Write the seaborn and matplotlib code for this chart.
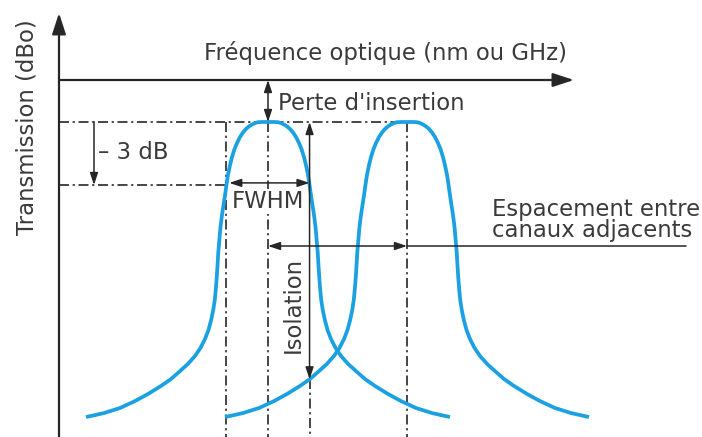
import numpy as np
import pandas as pd
import matplotlib
matplotlib.use("Agg")
import matplotlib.pyplot as plt
import seaborn as sns

# Half profile of one flat-top channel filter: offset from channel centre (GHz)
# and transmitted level (dB, 0 dB = reference line).
profile_offset_ghz = [0.0, 4.3, 7.2, 9.4, 11.5, 13.7, 15.8, 18.0, 20.1, 22.3, 24.1,
                      25.9, 27.3, 28.8, 29.9, 30.9, 32.0, 33.1, 34.2, 35.0, 35.8,
                      36.3, 36.9, 37.6, 38.3, 39.4, 40.9, 42.8, 45.3, 48.6, 52.5,
                      57.6, 63.3, 69.8, 77.0, 86.3, 95.7, 106.5, 118.0, 130.9]
profile_level_db = [-2.00, -2.00, -2.01, -2.05, -2.12, -2.21, -2.33, -2.50, -2.71, -3.00,
                    -3.29, -3.67, -4.05, -4.52, -5.00, -5.48, -5.95, -6.43, -7.00, -7.62,
                    -8.24, -8.81, -9.43, -10.00, -10.48, -10.95, -11.43, -11.90, -12.33,
                    -12.76, -13.14, -13.52, -13.86, -14.24, -14.57, -14.95, -15.29,
                    -15.62, -15.86, -16.05]

channel_names = ["Canal 1", "Canal 2"]
channel_centres_ghz = [0.0, 100.0]

reference_level_db = 0.0
peak_level_db = -2.0          # after insertion loss
half_power_level_db = -5.0    # peak - 3 dB
fwhm_half_ghz = 29.9

# Full symmetric response of each channel
off = np.array(profile_offset_ghz)
lev = np.array(profile_level_db)
full_off = np.concatenate([-off[::-1], off[1:]])
full_lev = np.concatenate([lev[::-1], lev[1:]])
frames = []
for name, fc in zip(channel_names, channel_centres_ghz):
    frames.append(pd.DataFrame({"freq": fc + full_off, "level": full_lev, "canal": name}))
df = pd.concat(frames, ignore_index=True)

# Figure geometry: 702 x 437 px, frequency 1.39 px/GHz, level 21 px/dB
W, H, DPI = 702, 437, 100
PX_PER_GHZ, PX_PER_DB = 1.39, 21.0
X0_PX, Y0_PX = 268.0, 80.0   # pixel of channel 1 centre / 0 dB line


def X(px):
    return (px - X0_PX) / PX_PER_GHZ


def Y(py):
    return -(py - Y0_PX) / PX_PER_DB


sns.set_style("white")
plt.rcParams["font.family"] = ["DejaVu Sans"]

BLUE = "#1ba1e2"
INK = "#262626"
TXT = "#3a3a3a"
FS = 16.4
DASHDOT = (0, (6, 2.2, 1.3, 2.2))

fig = plt.figure(figsize=(W / DPI, H / DPI), dpi=DPI)
ax = fig.add_axes([0, 0, 1, 1])
ax.set_xlim(X(0), X(W))
ax.set_ylim(Y(H), Y(0))
ax.axis("off")

sns.lineplot(data=df, x="freq", y="level", hue="canal",
             palette=[BLUE, BLUE], estimator=None, sort=False, legend=False,
             lw=2.7, ax=ax, zorder=3)
for line in ax.lines:
    line.set_solid_capstyle("butt")
    line.set_solid_joinstyle("round")

bottom = Y(H) - 0.5
axis_x = X(59)

# Axes with arrow heads
big_head = "-|>,head_length=0.8,head_width=0.26"
ax.annotate("", xy=(axis_x, Y(13)), xytext=(axis_x, bottom),
            arrowprops=dict(arrowstyle=big_head, mutation_scale=16, lw=1.6,
                            color=INK, shrinkA=0, shrinkB=0))
ax.annotate("", xy=(X(574), reference_level_db), xytext=(axis_x, reference_level_db),
            arrowprops=dict(arrowstyle=big_head, mutation_scale=16, lw=1.6,
                            color=INK, shrinkA=0, shrinkB=0))

# Dash-dot guide lines
fc1, fc2 = channel_centres_ghz
guide = dict(ls=DASHDOT, lw=1.2, color=INK, zorder=2)
ax.plot([axis_x, fc2 - 8], [peak_level_db] * 2, **guide)
ax.plot([axis_x, fc1 - fwhm_half_ghz], [half_power_level_db] * 2, **guide)
for xv in (fc1 - fwhm_half_ghz, fc1, fc2):
    ax.plot([xv, xv], [peak_level_db, bottom], **guide)

# Isolation: from peak down to the adjacent channel level at the channel edge
edge = fc1 + fwhm_half_ghz
iso_level = np.interp(fc2 - edge, profile_offset_ghz, profile_level_db)
ax.plot([edge, edge], [iso_level, bottom], **guide)

small = dict(mutation_scale=12, lw=1.1, color=INK, shrinkA=0, shrinkB=0)
dbl = "<|-|>,head_length=0.6,head_width=0.2"
one = "-|>,head_length=0.6,head_width=0.2"

ax.annotate("", xy=(fc1, peak_level_db), xytext=(fc1, reference_level_db),
            arrowprops=dict(arrowstyle=dbl, **small), zorder=4)
ax.annotate("", xy=(X(94), half_power_level_db), xytext=(X(94), peak_level_db),
            arrowprops=dict(arrowstyle=one, **small), zorder=4)
ax.annotate("", xy=(fc1 + fwhm_half_ghz, half_power_level_db + 0.1),
            xytext=(fc1 - fwhm_half_ghz + 2, half_power_level_db + 0.1),
            arrowprops=dict(arrowstyle=dbl, **small), zorder=4)
ax.annotate("", xy=(edge, iso_level), xytext=(edge, peak_level_db),
            arrowprops=dict(arrowstyle=dbl, **small), zorder=4)
spacing_y = Y(246)
ax.annotate("", xy=(fc2, spacing_y), xytext=(fc1, spacing_y),
            arrowprops=dict(arrowstyle=dbl, **small), zorder=4)
ax.plot([fc2, X(686)], [spacing_y] * 2, lw=1.1, color=INK, zorder=4)

# Labels
ax.text(X(386), Y(60), "Fréquence optique (nm ou GHz)", ha="center", va="baseline",
        fontsize=FS, color=TXT)
ax.text(X(278), Y(110), "Perte d'insertion", ha="left", va="baseline",
        fontsize=FS, color=TXT)
ax.text(X(98), Y(159), "– 3 dB", ha="left", va="baseline", fontsize=FS, color=TXT)
ax.text(fc1, Y(208), "FWHM", ha="center", va="baseline", fontsize=FS, color=TXT,
        zorder=5, bbox=dict(fc="white", ec="none", pad=0.5))
ax.text(X(293), Y(305), "Isolation", rotation=90, ha="center", va="center",
        fontsize=FS, color=TXT, zorder=5)
ax.text(X(492), Y(220), "Espacement entre\ncanaux adjacents", ha="left", va="center",
        fontsize=FS, color=TXT, linespacing=0.93)
ax.text(X(27), Y(127), "Transmission (dBo)", rotation=90, ha="center", va="center",
        fontsize=FS, color=TXT)

fig.savefig("out.png", dpi=DPI, facecolor="white")
